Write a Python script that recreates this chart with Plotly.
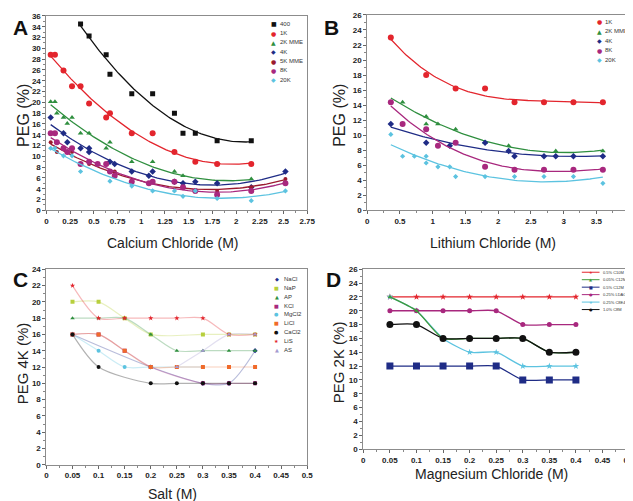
import numpy as np
import plotly.graph_objects as go

W, H = 633, 501
FONT = "Liberation Sans"

# ---------------- Panel A : Calcium Chloride ----------------
A_names = ["400", "1K", "2K MME", "4K", "5K MME", "8K", "20K"]
A_400_x = [0.36, 0.45, 0.63, 0.67, 0.90, 1.12, 1.35, 1.44, 1.57, 1.80, 2.16]
A_400_y = [34.5, 32.3, 28.8, 25.2, 21.6, 21.6, 18.0, 14.3, 14.3, 12.9, 12.9]
A_1K_x = [0.045, 0.09, 0.18, 0.27, 0.36, 0.45, 0.63, 0.67, 0.90, 1.12, 1.35, 1.57, 1.80, 2.16]
A_1K_y = [28.8, 28.8, 25.9, 23.0, 23.0, 19.8, 17.2, 18.0, 14.3, 14.3, 10.8, 9.0, 8.6, 8.6]
A_2K_x = [0.045, 0.09, 0.11, 0.18, 0.22, 0.27, 0.36, 0.45, 0.63, 0.67, 0.90, 1.12, 1.35, 1.44, 1.80, 2.16]
A_2K_y = [20.1, 20.1, 18.0, 17.2, 16.1, 17.2, 14.3, 14.3, 11.5, 12.6, 9.0, 9.0, 7.2, 6.4, 5.0, 5.8]
A_4K_x = [0.045, 0.18, 0.22, 0.36, 0.45, 0.45, 0.67, 0.72, 0.90, 1.08, 1.12, 1.35, 1.44, 1.57, 1.80, 2.16, 2.52]
A_4K_y = [17.2, 14.3, 12.6, 11.5, 11.5, 10.8, 9.0, 8.6, 7.2, 6.4, 7.2, 5.3, 5.0, 5.3, 5.0, 4.3, 7.2]
A_5K_x = [0.045, 0.11, 0.18, 0.27, 0.36, 0.45, 0.67, 0.72, 0.90, 1.12, 1.44, 1.80, 2.16, 2.52]
A_5K_y = [12.6, 10.8, 11.5, 10.8, 8.6, 8.6, 7.2, 7.2, 5.5, 5.3, 4.3, 3.6, 4.3, 5.8]
A_8K_x = [0.045, 0.09, 0.11, 0.18, 0.22, 0.27, 0.36, 0.45, 0.54, 0.63, 0.67, 0.72, 0.90, 1.08, 1.12, 1.35, 1.44, 1.57, 1.80, 2.16, 2.52]
A_8K_y = [14.3, 14.3, 12.6, 11.5, 10.8, 11.5, 8.6, 9.0, 8.6, 8.6, 7.2, 6.4, 5.3, 5.0, 5.3, 5.3, 4.3, 3.6, 2.9, 3.6, 5.0]
A_20K_x = [0.045, 0.09, 0.18, 0.27, 0.36, 0.67, 0.90, 1.12, 1.35, 1.44, 1.57, 1.80, 2.16, 2.52]
A_20K_y = [11.5, 11.5, 10.1, 10.1, 7.2, 5.4, 4.5, 3.6, 3.6, 2.6, 3.6, 2.2, 1.8, 3.6]

# ---------------- Panel B : Lithium Chloride ----------------
B_names = ["1K", "2K MME", "4K", "8K", "20K"]
B_1K_x = [0.36, 0.90, 1.35, 1.80, 2.25, 2.70, 3.15, 3.60]
B_1K_y = [23.0, 18.0, 16.2, 16.2, 14.4, 14.4, 14.4, 14.4]
B_2K_x = [0.54, 0.90, 0.90, 1.08, 1.35, 1.80, 2.16, 2.88, 3.60]
B_2K_y = [14.4, 12.5, 11.5, 11.5, 10.8, 9.0, 8.6, 7.9, 7.9]
B_4K_x = [0.36, 0.90, 1.26, 1.80, 2.16, 2.25, 2.70, 2.88, 3.15, 3.60]
B_4K_y = [11.5, 9.0, 8.6, 9.0, 7.9, 7.2, 7.2, 7.2, 7.2, 7.2]
B_8K_x = [0.36, 0.54, 0.90, 1.08, 1.35, 1.80, 2.25, 2.70, 3.15, 3.60]
B_8K_y = [14.4, 11.5, 10.8, 8.6, 9.0, 5.8, 5.4, 5.4, 5.4, 5.4]
B_20K_x = [0.36, 0.54, 0.72, 0.90, 0.90, 1.08, 1.26, 1.35, 1.80, 2.25, 2.70, 3.15, 3.60]
B_20K_y = [10.1, 7.2, 7.2, 7.2, 6.3, 5.8, 5.8, 4.5, 4.5, 4.5, 4.5, 4.5, 3.6]

# ---------------- Panel C : Salt ----------------
C_names = ["NaCl", "NaP", "AP", "KCl", "MgCl2", "LiCl", "CaCl2", "LiS", "AS"]
C_NaCl_x = [0.05, 0.20, 0.30, 0.35, 0.40]
C_NaCl_y = [16, 12, 10, 10, 14]
C_NaP_x = [0.05, 0.10, 0.15, 0.20, 0.30, 0.35, 0.40]
C_NaP_y = [20, 20, 18, 16, 16, 16, 16]
C_AP_x = [0.05, 0.10, 0.15, 0.20, 0.25, 0.30, 0.35, 0.40]
C_AP_y = [18, 18, 18, 16, 14, 14, 14, 14]
C_KCl_x = [0.05, 0.10, 0.15, 0.20, 0.30, 0.35, 0.40]
C_KCl_y = [16, 16, 14, 12, 10, 10, 10]
C_MgCl2_x = [0.05, 0.10, 0.15, 0.20, 0.25, 0.30]
C_MgCl2_y = [16, 14, 12, 12, 12, 12]
C_LiCl_x = [0.05, 0.10, 0.15, 0.20, 0.25, 0.30, 0.35, 0.40]
C_LiCl_y = [16, 16, 14, 12, 12, 12, 12, 12]
C_CaCl2_x = [0.05, 0.10, 0.20, 0.25, 0.30, 0.35, 0.40]
C_CaCl2_y = [16, 12, 10, 10, 10, 10, 10]
C_LiS_x = [0.05, 0.10, 0.15, 0.20, 0.25, 0.30, 0.35, 0.40]
C_LiS_y = [22, 18, 18, 18, 18, 18, 16, 16]
C_AS_x = [0.25, 0.30, 0.35, 0.40]
C_AS_y = [12, 14, 16, 16]

# ---------------- Panel D : Magnesium Chloride ----------------
D_names = ["0.5% C10M", "0.05% C12M", "0.5% C12M", "0.25% LDAO", "0.25% C8E4", "1.0% C8M"]
D_x = [0.05, 0.10, 0.15, 0.20, 0.25, 0.30, 0.35, 0.40]
D_C10M_y = [22, 22, 22, 22, 22, 22, 22, 22]
D_C12M005_y = [22, 20, 16, 16, 16, 16, 14, 14]
D_C12M05_y = [12, 12, 12, 12, 12, 10, 10, 10]
D_LDAO_y = [20, 20, 20, 20, 20, 18, 18, 18]
D_C8E4_y = [22, 20, 16, 14, 14, 12, 12, 12]
D_C8M_y = [18, 18, 16, 16, 16, 16, 14, 14]

# ---------------- styles ----------------
BLACK, RED, GREEN, NAVY = "#111111", "#e3252d", "#2f8f3f", "#1f2c86"
DRED, MAG, LBLUE = "#9b1b2e", "#a8287e", "#5cc3e0"

A_series = [
    (A_400_x, A_400_y, BLACK, "square", 5),
    (A_1K_x, A_1K_y, RED, "circle", 6),
    (A_2K_x, A_2K_y, GREEN, "triangle-up", 5),
    (A_4K_x, A_4K_y, NAVY, "diamond", 5),
    (A_5K_x, A_5K_y, DRED, "circle", 4),
    (A_8K_x, A_8K_y, MAG, "circle", 6),
    (A_20K_x, A_20K_y, LBLUE, "diamond", 4),
]
B_series = [
    (B_1K_x, B_1K_y, RED, "circle", 6, 3),
    (B_2K_x, B_2K_y, GREEN, "triangle-up", 5, 2),
    (B_4K_x, B_4K_y, NAVY, "diamond", 5, 2),
    (B_8K_x, B_8K_y, MAG, "circle", 6, 3),
    (B_20K_x, B_20K_y, LBLUE, "diamond", 4, 2),
]
C_series = [
    (C_NaCl_x, C_NaCl_y, "#25318f", "diamond", 4),
    (C_NaP_x, C_NaP_y, "#b7cf3c", "square", 4),
    (C_AP_x, C_AP_y, "#2f8f3f", "triangle-up", 4),
    (C_KCl_x, C_KCl_y, "#a8287e", "square", 4),
    (C_MgCl2_x, C_MgCl2_y, "#5cc3e0", "circle", 4),
    (C_LiCl_x, C_LiCl_y, "#f06a2a", "square", 4),
    (C_CaCl2_x, C_CaCl2_y, "#111111", "circle", 4),
    (C_LiS_x, C_LiS_y, "#e3252d", "star", 4),
    (C_AS_x, C_AS_y, "#a59ad0", "triangle-up", 4),
]
C_glyph = ["◆", "■", "▲", "■", "●", "■", "●", "★", "▲"]
D_series = [
    (D_C10M_y, "#e3252d", "star", 5),
    (D_C12M005_y, "#3f9a3a", "triangle-up", 4),
    (D_C12M05_y, "#1f2c86", "square", 7),
    (D_LDAO_y, "#a8287e", "circle", 5),
    (D_C8E4_y, "#5cc3e0", "star", 5),
    (D_C8M_y, "#111111", "circle", 7),
]
D_draw_order = [0, 4, 2, 3, 1, 5]

fig = go.Figure()

# panel A
for (xs, ys, col, sym, sz) in A_series:
    xs, ys = np.array(xs), np.array(ys)
    c = np.polyfit(xs, ys, 2)
    xf = np.linspace(xs.min(), xs.max(), 100)
    fig.add_trace(go.Scatter(x=xf, y=np.polyval(c, xf), mode="lines", line=dict(color=col, width=1.3),
                             xaxis="x", yaxis="y", showlegend=False, hoverinfo="skip"))
    fig.add_trace(go.Scatter(x=xs, y=ys, mode="markers", marker=dict(color=col, symbol=sym, size=sz),
                             xaxis="x", yaxis="y", showlegend=False))

# panel B
for (xs, ys, col, sym, sz, deg) in B_series:
    xs, ys = np.array(xs), np.array(ys)
    c = np.polyfit(xs, ys, deg)
    xf = np.linspace(0.36, xs.max(), 100)
    fig.add_trace(go.Scatter(x=xf, y=np.polyval(c, xf), mode="lines", line=dict(color=col, width=1.3),
                             xaxis="x2", yaxis="y2", showlegend=False, hoverinfo="skip"))
    fig.add_trace(go.Scatter(x=xs, y=ys, mode="markers", marker=dict(color=col, symbol=sym, size=sz),
                             xaxis="x2", yaxis="y2", showlegend=False))

def rgba(hexc, a):
    h = hexc.lstrip("#")
    return "rgba(%d,%d,%d,%.2f)" % (int(h[0:2], 16), int(h[2:4], 16), int(h[4:6], 16), a)

# panel C
for (xs, ys, col, sym, sz) in C_series:
    fig.add_trace(go.Scatter(x=xs, y=ys, mode="lines+markers",
                             line=dict(color=rgba(col, 0.32), width=1.2, shape="spline", smoothing=0.8),
                             marker=dict(color=col, symbol=sym, size=sz),
                             xaxis="x3", yaxis="y3", showlegend=False))

# panel D
for k in D_draw_order:
    ys, col, sym, sz = D_series[k]
    fig.add_trace(go.Scatter(x=D_x, y=ys, mode="lines+markers",
                             line=dict(color=col, width=1.3, shape="spline", smoothing=0.6),
                             marker=dict(color=col, symbol=sym, size=sz),
                             xaxis="x4", yaxis="y4", showlegend=False))

def X(p): return p / W
def Y(p): return 1 - p / H

def axis(d0, d1, rng, dtick, minor, **kw):
    a = dict(domain=[d0, d1], range=rng, dtick=dtick, tick0=0, showgrid=False, zeroline=False,
             showline=True, linecolor="#8c8c8c", linewidth=1, mirror=True,
             ticks="outside", ticklen=3, tickcolor="#666", tickwidth=1,
             tickfont=dict(family=FONT, size=8, color="#222", weight="bold"),
             minor=dict(ticks="outside", ticklen=2, dtick=minor, tickcolor="#888"),
             fixedrange=True)
    a.update(kw)
    return a

fig.update_layout(
    width=W, height=H, margin=dict(l=0, r=0, t=0, b=0),
    paper_bgcolor="white", plot_bgcolor="white",
    xaxis=axis(X(37), X(302), [0, 2.75], 0.25, 0.125, anchor="y"),
    yaxis=axis(Y(202), Y(4), [0, 36], 2, 1, anchor="x"),
    xaxis2=axis(X(363), X(629), [0, 4], 0.5, 0.25, anchor="y2"),
    yaxis2=axis(Y(202), Y(3), [0, 26], 2, 1, anchor="x2"),
    xaxis3=axis(X(37), X(302), [0, 0.5], 0.05, 0.025, anchor="y3"),
    yaxis3=axis(Y(461), Y(262), [0, 24], 2, 1, anchor="x3"),
    xaxis4=axis(X(359), X(629), [0, 0.5], 0.05, 0.025, anchor="y4"),
    yaxis4=axis(Y(445), Y(262), [0, 26], 2, 1, anchor="x4"),
)

ann = []
shapes = []
def text(x, y, t, size, color="#222", bold=False, angle=0, xanchor="center", yanchor="middle", family=FONT):
    ann.append(dict(x=X(x), y=Y(y), xref="paper", yref="paper", text=t, showarrow=False, textangle=angle,
                    xanchor=xanchor, yanchor=yanchor, borderpad=0,
                    font=dict(family=family, size=size, color=color, weight="bold" if bold else "normal")))

# panel letters
text(2, 16, "A", 21, "#111", True, xanchor="left")
text(318, 16, "B", 21, "#111", True, xanchor="left")
text(2, 272, "C", 21, "#111", True, xanchor="left")
text(320, 272, "D", 21, "#111", True, xanchor="left")

# axis titles
text(165, 235, "Calcium Chloride (M)", 14)
text(491, 235, "Lithium Chloride (M)", 14)
text(165, 491, "Salt (M)", 14)
text(489, 470, "Magnesium Chloride (M)", 14)
text(13, 105, "PEG (%)", 16, angle=-90)
text(334, 105, "PEG (%)", 16, angle=-90)
text(13, 358, "PEG 4K (%)", 15, angle=-90)
text(334, 357, "PEG 2K (%)", 15, angle=-90)

# legends
A_glyph = ["■", "●", "▲", "◆", "●", "●", "◆"]
for i, name in enumerate(A_names):
    yy = 12 + i * 9.5
    text(268, yy, A_glyph[i], 6, A_series[i][2], family="DejaVu Sans")
    text(273, yy, name, 6, "#333", xanchor="left")
B_glyph = ["●", "▲", "◆", "●", "◆"]
for i, name in enumerate(B_names):
    yy = 10 + i * 9.6
    text(599, yy, B_glyph[i], 6, B_series[i][2], family="DejaVu Sans")
    text(604, yy, name, 6, "#333", xanchor="left")
for i, name in enumerate(C_names):
    yy = 272 + i * 9.0
    text(271, yy, C_glyph[i], 5, C_series[i][2], family="DejaVu Sans")
    text(277, yy, name, 6, "#333", xanchor="left")
D_glyph = ["★", "▲", "■", "●", "★", "●"]
for i, name in enumerate(D_names):
    yy = 265 + i * 7.6
    shapes.append(dict(type="line", xref="paper", yref="paper", x0=X(581), x1=X(599), y0=Y(yy), y1=Y(yy),
                       line=dict(color=D_series[i][1], width=1)))
    text(590, yy, D_glyph[i], 4, D_series[i][1], family="DejaVu Sans")
    text(602, yy, name, 4, "#333", xanchor="left")

fig.update_layout(annotations=ann, shapes=shapes)
fig.write_html("out.html")
